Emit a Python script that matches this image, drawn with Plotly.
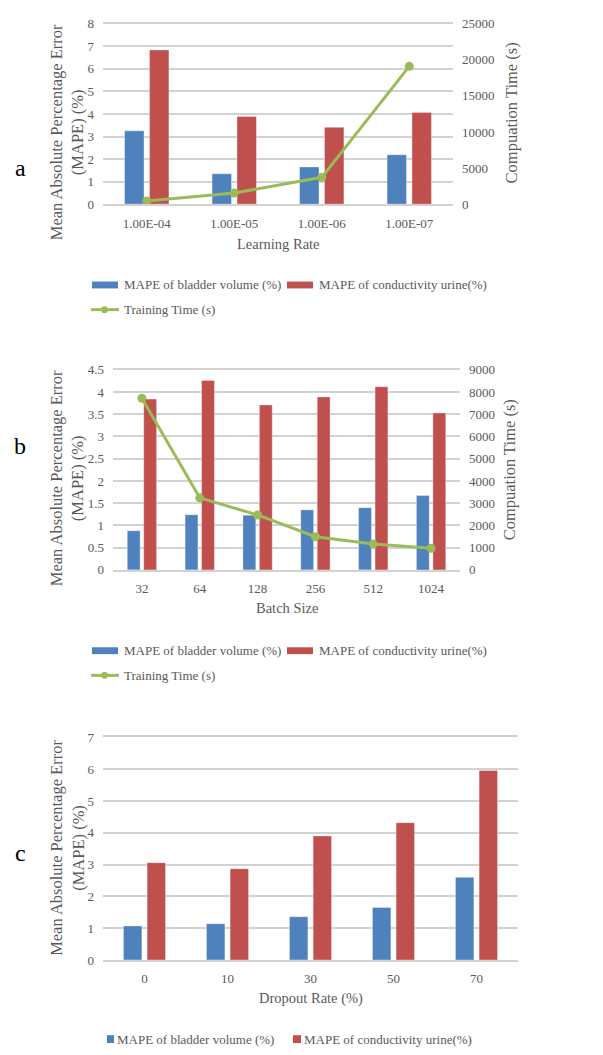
import plotly.graph_objects as go

W, H = 603, 1055
FONT = "Liberation Serif"
GRAY = "#595959"
GRID = "#d2d2d2"
BLUE = "#4f81bd"
RED = "#c0504d"
GREEN = "#9bbb59"

# ---------------- data ----------------
lr_labels = ["1.00E-04", "1.00E-05", "1.00E-06", "1.00E-07"]
lr_bladder = [3.25, 1.35, 1.65, 2.19]
lr_cond = [6.84, 3.89, 3.41, 4.07]
lr_time = [450, 1540, 3720, 19100]

bs_labels = ["32", "64", "128", "256", "512", "1024"]
bs_bladder = [0.88, 1.24, 1.23, 1.35, 1.40, 1.67]
bs_cond = [3.84, 4.26, 3.71, 3.89, 4.12, 3.53]
bs_time = [7720, 3240, 2470, 1490, 1160, 970]

do_labels = ["0", "10", "30", "50", "70"]
do_bladder = [1.07, 1.14, 1.36, 1.65, 2.60]
do_cond = [3.06, 2.87, 3.90, 4.32, 5.96]

name_b = "MAPE of bladder volume (%)"
name_c = "MAPE of conductivity urine(%)"
name_t = "Training Time (s)"


def px(x):
    return x / W


def py(y):
    return 1 - y / H


fig = go.Figure()

bar_line = dict(color="rgba(255,255,255,0.6)", width=0.6)

# panel a
fig.add_trace(go.Bar(x=lr_labels, y=lr_bladder, name=name_b, marker=dict(color=BLUE, line=bar_line),
                     xaxis="x", yaxis="y", showlegend=False))
fig.add_trace(go.Bar(x=lr_labels, y=lr_cond, name=name_c, marker=dict(color=RED, line=bar_line),
                     xaxis="x", yaxis="y", showlegend=False))
fig.add_trace(go.Scatter(x=lr_labels, y=lr_time, name=name_t, mode="lines+markers",
                         line=dict(color=GREEN, width=3), marker=dict(color=GREEN, size=9),
                         xaxis="x", yaxis="y2", showlegend=False))
# panel b
fig.add_trace(go.Bar(x=bs_labels, y=bs_bladder, name=name_b, marker=dict(color=BLUE, line=bar_line),
                     xaxis="x2", yaxis="y3", showlegend=False))
fig.add_trace(go.Bar(x=bs_labels, y=bs_cond, name=name_c, marker=dict(color=RED, line=bar_line),
                     xaxis="x2", yaxis="y3", showlegend=False))
fig.add_trace(go.Scatter(x=bs_labels, y=bs_time, name=name_t, mode="lines+markers",
                         line=dict(color=GREEN, width=3), marker=dict(color=GREEN, size=9),
                         xaxis="x2", yaxis="y4", showlegend=False))
# panel c
fig.add_trace(go.Bar(x=do_labels, y=do_bladder, name=name_b, marker=dict(color=BLUE, line=bar_line),
                     xaxis="x3", yaxis="y5", showlegend=False))
fig.add_trace(go.Bar(x=do_labels, y=do_cond, name=name_c, marker=dict(color=RED, line=bar_line),
                     xaxis="x3", yaxis="y5", showlegend=False))

tickfont = dict(family=FONT, size=13, color=GRAY)


def xax(domain, anchor):
    # axis line + mirror gives the bottom (0) and top gridlines of each panel
    return dict(domain=domain, anchor=anchor, type="category", showgrid=False, zeroline=False,
                showline=True, mirror=True, linecolor=GRID, linewidth=1.5,
                ticks="", tickfont=tickfont, ticklabelstandoff=6, fixedrange=True)


def yax(domain, anchor, rng, dtick, grid=True):
    return dict(domain=domain, anchor=anchor, range=rng, dtick=dtick, showgrid=grid,
                gridcolor=GRID, gridwidth=1.5, zeroline=False, showline=False, ticks="",
                tickfont=tickfont, ticklabelstandoff=8, fixedrange=True)


ya = [py(200), py(17)]
yb = [py(571), py(368)]
yc = [py(966.7), py(741)]

layout = dict(
    width=W, height=H,
    margin=dict(l=0, r=0, t=0, b=0),
    paper_bgcolor="white", plot_bgcolor="white",
    barmode="group", bargap=0.43, bargroupgap=0.22,
    font=dict(family=FONT, color=GRAY),
    xaxis=xax([px(103), px(453)], "y"),
    yaxis=yax(ya, "x", [0, 8], 1),
    yaxis2=dict(yax(ya, "x", [0, 25000], 5000, grid=False), overlaying="y", side="right", tickformat="d"),
    xaxis2=xax([px(113), px(460)], "y3"),
    yaxis3=yax(yb, "x2", [0, 4.5], 0.5),
    yaxis4=dict(yax(yb, "x2", [0, 9000], 1000, grid=False), overlaying="y3", side="right", tickformat="d"),
    xaxis3=xax([px(103), px(518)], "y5"),
    yaxis5=yax(yc, "x3", [0, 7], 1),
)
fig.update_layout(**layout)

ann = []
shapes = []


def text(x, y, t, size=14, angle=0, xanchor="center", color=GRAY):
    ann.append(dict(x=px(x), y=py(y), xref="paper", yref="paper", text=t, showarrow=False,
                    textangle=angle, xanchor=xanchor, yanchor="middle",
                    font=dict(family=FONT, size=size, color=color)))


ytitle = "Mean Absolute Percentage Error<br>(MAPE) (%)"
# panel labels
text(20, 163, "a", size=24, color="black")
text(20, 445, "b", size=24, color="black")
text(20, 858, "c", size=24, color="black")
# y titles
text(67, 127, ytitle, size=16.5, angle=-90)
text(67, 478, ytitle, size=16.5, angle=-90)
text(67, 853, ytitle, size=16.5, angle=-90)
text(511, 108, "Compuation Time (s)", size=16.5, angle=-90)
text(509, 470, "Compuation Time (s)", size=16.5, angle=-90)
# x titles
text(278, 240, "Learning Rate", size=14.5)
text(286.5, 610, "Batch Size", size=14.5)
text(310.5, 1006, "Dropout Rate (%)", size=14.5)


def rect(x0, y0, x1, y1, color):
    shapes.append(dict(type="rect", xref="paper", yref="paper", x0=px(x0), x1=px(x1),
                       y0=py(y1), y1=py(y0), fillcolor=color, line=dict(width=0)))


def legend_ab(y1, y2):
    rect(92, y1 - 3.5, 118, y1 + 3.5, BLUE)
    text(122, y1, name_b, size=13, xanchor="left")
    rect(287, y1 - 3.5, 313, y1 + 3.5, RED)
    text(317, y1, name_c, size=13, xanchor="left")
    shapes.append(dict(type="line", xref="paper", yref="paper", x0=px(91), x1=px(119),
                       y0=py(y2), y1=py(y2), line=dict(color=GREEN, width=3)))
    shapes.append(dict(type="circle", xref="paper", yref="paper", x0=px(101), x1=px(108),
                       y0=py(y2 + 3.5), y1=py(y2 - 3.5), fillcolor=GREEN, line=dict(width=0)))
    text(122, y2, name_t, size=13, xanchor="left")


legend_ab(282, 307)
legend_ab(653, 678)
rect(107, 1043, 114, 1051, BLUE)
text(115, 1047, name_b, size=13, xanchor="left")
rect(293, 1043, 301, 1051, RED)
text(302, 1047, name_c, size=13, xanchor="left")

fig.update_layout(annotations=ann, shapes=shapes)
fig.write_html("out.html")
